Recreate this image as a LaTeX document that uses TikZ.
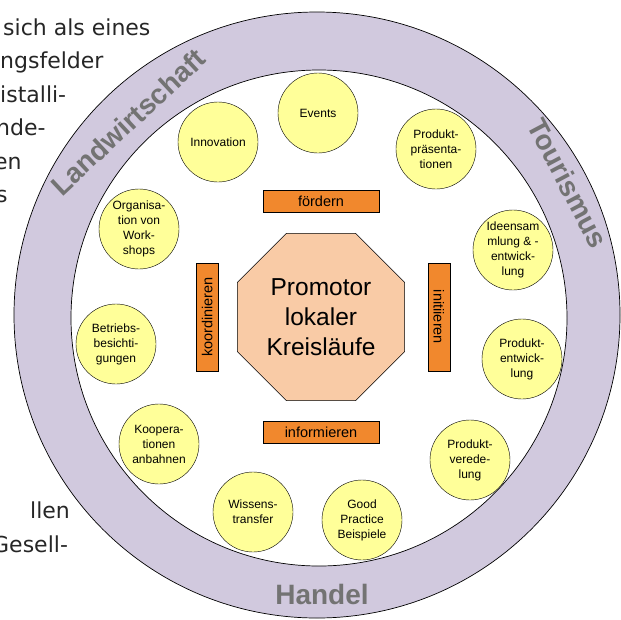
\documentclass[tikz,border=0pt]{standalone}
\usepackage{fontspec}
\setmainfont{Liberation Sans}
\newfontfamily\foliefont{DejaVu Sans}
\usepackage{xcolor}
\usepackage{tikz}
\usetikzlibrary{positioning}
\usetikzlibrary{shapes.geometric}

\definecolor{ringlila}{RGB}{209,201,222}
\definecolor{ringgrau}{RGB}{115,115,115}
\definecolor{kreisgelb}{RGB}{255,255,153}
\definecolor{achteck}{RGB}{249,203,166}
\definecolor{kasten}{RGB}{241,136,45}

\begin{document}
\begin{tikzpicture}[x=1pt,y=-1pt,
	feld/.style={circle,draw,fill=kreisgelb,minimum size=80pt,inner sep=0pt,align=center,font=\fontsize{12}{15}\selectfont},
	verb/.style={rectangle,draw,fill=kasten,inner sep=0pt,minimum width=116pt,minimum height=22pt,font=\fontsize{14.5}{16}\selectfont},
	ringtext/.style={text=ringgrau,inner sep=0pt,font=\fontsize{28}{30}\selectfont\bfseries},
	folie/.style={anchor=base west,inner sep=0pt,text=black!85,font=\fontsize{22}{26}\foliefont}]
		\clip (0,0) rectangle (621,619);
		% Text der Folie, links abgeschnitten
		\node[folie] (t1) at (3,35) {sich als eines};
		\node[folie] (t2) at (0,68.5) {ngsfelder};
		\node[folie] (t3) at (0,102) {istalli-};
		\node[folie] (t4) at (-4,135.5) {nde-};
		\node[folie] (t5) at (-6,169) {en};
		\node[folie] (t6) at (-4,202.5) {s};
		\node[folie] (t7) at (30,518) {llen};
		\node[folie] (t8) at (-8,552) {Gesell-};
		
		% Ring
		\coordinate (m) at (317,315);
		\coordinate (mi) at (319,318);
		\draw[fill=ringlila,even odd rule,line width=0.7pt] (m) circle (303pt) (mi) circle (248pt);
		\node[ringtext,rotate=43] (r1) at (128,122) {Landwirtschaft};
		\node[ringtext,rotate=-62] (r2) at (568,183) {Tourismus};
		\node[ringtext] (r3) at (322,594) {Handel};
		
		% Mitte
		\node[regular polygon,regular polygon sides=8,draw,fill=achteck,minimum size=181pt,inner sep=0pt,align=center,font=\fontsize{24.5}{30}\selectfont] (p0) at (321,317) {Promotor\\lokaler\\Kreisläufe};
		\node[verb,above=21pt of p0] (v1) {fördern};
		\node[verb,below=20pt of p0] (v2) {informieren};
		\node[verb,rotate=90,minimum width=108pt] (v3) at ([xshift=-30pt]p0.west) {koordinieren};
		\node[verb,rotate=-90,minimum width=108pt] (v4) at ([xshift=34pt]p0.east) {initiieren};
		
		% Handlungsfelder
		\node[feld] (f1) at (318,113) {Events};
		\node[feld] (f2) at (218,142) {Innovation};
		\node[feld] (f3) at (436,149) {Produkt-\\präsenta-\\tionen};
		\node[feld] (f4) at (139,229) {Organisa-\\tion von\\Work-\\shops};
		\node[feld] (f5) at (513,250) {Ideensam\\mlung \& -\\entwick-\\lung};
		\node[feld] (f6) at (116,344) {Betriebs-\\besichti-\\gungen};
		\node[feld] (f7) at (522,359) {Produkt-\\entwick-\\lung};
		\node[feld] (f8) at (159,444) {Koopera-\\tionen\\anbahnen};
		\node[feld] (f9) at (470,460) {Produkt-\\verede-\\lung};
		\node[feld] (f10) at (253,512) {Wissens-\\transfer};
		\node[feld] (f11) at (362,520) {Good\\Practice\\Beispiele};
\end{tikzpicture}
\end{document}
